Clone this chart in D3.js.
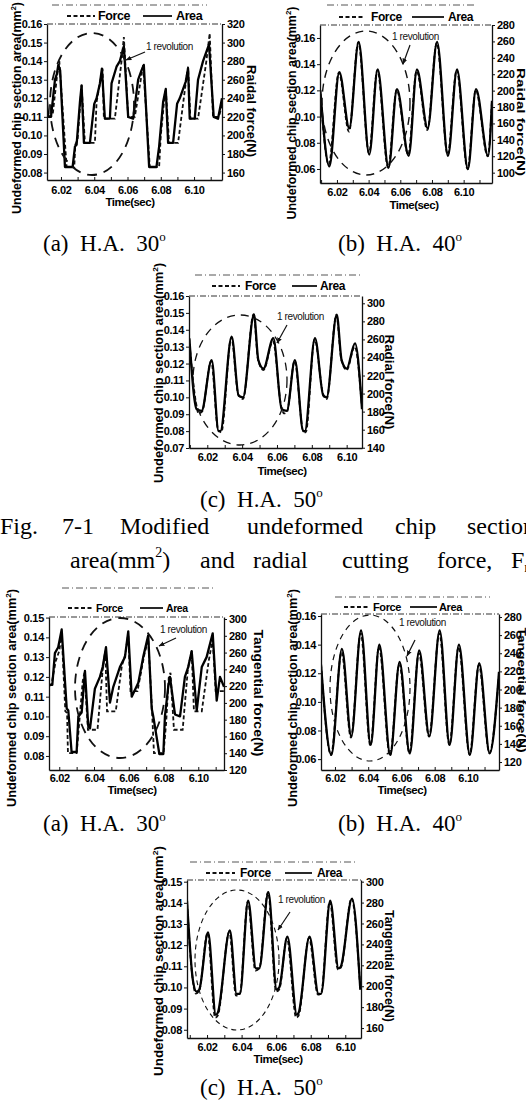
<!DOCTYPE html>
<html>
<head>
<meta charset="utf-8">
<script src="https://cdn.jsdelivr.net/npm/d3@7"></script>
<style>
  body { margin: 0; background: #fff; }
  svg { display: block; background: #fff; }
</style>
</head>
<body>
<svg id="fig" width="526" height="1108"></svg>
<script>
const timeTicks = [6.02, 6.04, 6.06, 6.08, 6.10]

// (a) radial force, H.A. 30
const areaA = [[6.0114, 0.120], [6.0124, 0.110], [6.0140, 0.110], [6.0164, 0.130], [6.0175, 0.133], [6.0184, 0.138], [6.0195, 0.135], [6.0224, 0.083], [6.0270, 0.083], [6.0284, 0.094], [6.0294, 0.095], [6.0314, 0.118], [6.0324, 0.127], [6.0338, 0.096], [6.0374, 0.096], [6.0400, 0.117], [6.0414, 0.120], [6.0434, 0.128], [6.0446, 0.136], [6.0464, 0.109], [6.0494, 0.109], [6.0504, 0.128], [6.0534, 0.137], [6.0554, 0.140], [6.0578, 0.148], [6.0604, 0.110], [6.0634, 0.109], [6.0664, 0.130], [6.0684, 0.135], [6.0698, 0.138], [6.0730, 0.083], [6.0774, 0.083], [6.0790, 0.094], [6.0814, 0.118], [6.0830, 0.125], [6.0844, 0.096], [6.0874, 0.096], [6.0898, 0.117], [6.0914, 0.120], [6.0950, 0.129], [6.0964, 0.136], [6.0974, 0.109], [6.1004, 0.109], [6.1024, 0.130], [6.1054, 0.140], [6.1090, 0.149], [6.1118, 0.110], [6.1144, 0.109], [6.1168, 0.120]]
const forceA = [[6.0114, 228], [6.0134, 220], [6.0150, 222], [6.0175, 262], [6.0190, 280], [6.0234, 166], [6.0280, 166], [6.0286, 190], [6.0300, 196], [6.0324, 254], [6.0344, 192], [6.0404, 192], [6.0414, 236], [6.0440, 262], [6.0450, 272], [6.0458, 218], [6.0524, 218], [6.0564, 280], [6.0578, 306], [6.0604, 220], [6.0644, 220], [6.0694, 276], [6.0734, 166], [6.0790, 166], [6.0800, 200], [6.0824, 244], [6.0830, 250], [6.0850, 192], [6.0904, 192], [6.0954, 262], [6.0964, 274], [6.0978, 218], [6.1024, 218], [6.1074, 280], [6.1094, 310], [6.1114, 220], [6.1150, 220], [6.1168, 234]]
const leftTicksA = [0.08, 0.09, 0.10, 0.11, 0.12, 0.13, 0.14, 0.15, 0.16]
const rightTicksA = [160, 180, 200, 220, 240, 260, 280, 300, 320]

// (b) radial force, H.A. 40
const areaB = [[6.0095, 0.120], [6.0152, 0.062], [6.0215, 0.134], [6.0278, 0.091], [6.0337, 0.157], [6.0404, 0.071], [6.0457, 0.136], [6.0526, 0.061], [6.0579, 0.121], [6.0653, 0.070], [6.0705, 0.136], [6.0773, 0.091], [6.0832, 0.157], [6.0901, 0.070], [6.0958, 0.136], [6.1027, 0.060], [6.1078, 0.121], [6.1154, 0.070], [6.1179, 0.112]]
const forceB = [[6.0093, 204], [6.0148, 110], [6.0212, 222], [6.0276, 150], [6.0335, 259], [6.0402, 124], [6.0455, 225], [6.0523, 106], [6.0577, 201], [6.0650, 122], [6.0703, 224], [6.0771, 152], [6.0830, 258], [6.0899, 122], [6.0956, 225], [6.1025, 104], [6.1076, 201], [6.1152, 120], [6.1179, 188]]
const leftTicksB = [0.06, 0.08, 0.10, 0.12, 0.14, 0.16]
const rightTicksB = [100, 120, 140, 160, 180, 200, 220, 240, 260, 280]

// (c) radial force, H.A. 50
const areaC = [[6.0097, 0.135], [6.0139, 0.093], [6.0167, 0.092], [6.0225, 0.122], [6.0265, 0.080], [6.0275, 0.080], [6.0340, 0.136], [6.0380, 0.101], [6.0405, 0.100], [6.0468, 0.149], [6.0493, 0.122], [6.0522, 0.117], [6.0579, 0.135], [6.0627, 0.093], [6.0656, 0.092], [6.0703, 0.122], [6.0751, 0.080], [6.0760, 0.080], [6.0818, 0.135], [6.0866, 0.101], [6.0885, 0.100], [6.0943, 0.149], [6.0971, 0.122], [6.1000, 0.117], [6.1048, 0.132], [6.1088, 0.093]]
const forceC = [[6.0095, 262], [6.0135, 190], [6.0150, 178], [6.0170, 180], [6.0222, 236], [6.0262, 160], [6.0280, 157], [6.0338, 262], [6.0378, 199], [6.0405, 194], [6.0466, 288], [6.0491, 238], [6.0522, 226], [6.0577, 258], [6.0624, 186], [6.0640, 178], [6.0658, 180], [6.0701, 236], [6.0750, 159], [6.0765, 157], [6.0816, 260], [6.0864, 200], [6.0885, 194], [6.0941, 287], [6.0969, 238], [6.1000, 226], [6.1046, 252], [6.1088, 184]]
const leftTicksC = [0.07, 0.08, 0.09, 0.10, 0.11, 0.12, 0.13, 0.14, 0.15, 0.16]
const rightTicksC = [140, 160, 180, 200, 220, 240, 260, 280, 300]

// (a) tangential force, H.A. 30
const areaD = [[6.0142, 0.116], [6.0160, 0.116], [6.0175, 0.132], [6.0194, 0.135], [6.0214, 0.144], [6.0243, 0.104], [6.0252, 0.103], [6.0271, 0.082], [6.0300, 0.082], [6.0310, 0.100], [6.0329, 0.102], [6.0348, 0.123], [6.0367, 0.095], [6.0377, 0.094], [6.0405, 0.114], [6.0434, 0.120], [6.0450, 0.125], [6.0469, 0.135], [6.0492, 0.107], [6.0511, 0.115], [6.0549, 0.125], [6.0578, 0.130], [6.0597, 0.143], [6.0617, 0.110], [6.0655, 0.117], [6.0683, 0.130], [6.0712, 0.141], [6.0732, 0.104], [6.0741, 0.100], [6.0776, 0.081], [6.0799, 0.081], [6.0808, 0.100], [6.0827, 0.115], [6.0837, 0.120], [6.0866, 0.101], [6.0895, 0.100], [6.0923, 0.120], [6.0942, 0.125], [6.0962, 0.133], [6.0991, 0.103], [6.1020, 0.125], [6.1048, 0.130], [6.1083, 0.142], [6.1106, 0.108], [6.1125, 0.120], [6.1148, 0.115]]
const forceD = [[6.0142, 220], [6.0155, 222], [6.0180, 250], [6.0200, 262], [6.0214, 282], [6.0235, 190], [6.0245, 188], [6.0250, 140], [6.0300, 140], [6.0315, 176], [6.0335, 226], [6.0345, 236], [6.0365, 168], [6.0420, 168], [6.0450, 240], [6.0465, 262], [6.0475, 190], [6.0525, 190], [6.0560, 244], [6.0580, 258], [6.0597, 282], [6.0610, 214], [6.0650, 214], [6.0690, 258], [6.0712, 276], [6.0735, 186], [6.0745, 140], [6.0800, 140], [6.0815, 176], [6.0830, 230], [6.0840, 236], [6.0860, 168], [6.0910, 168], [6.0940, 240], [6.0962, 262], [6.0975, 190], [6.1020, 190], [6.1060, 250], [6.1083, 276], [6.1100, 214], [6.1148, 214]]
const leftTicksD = [0.08, 0.09, 0.10, 0.11, 0.12, 0.13, 0.14, 0.15]
const rightTicksD = [120, 140, 160, 180, 200, 220, 240, 260, 280, 300]

// (b) tangential force, H.A. 40
const areaE = [[6.0116, 0.126], [6.0178, 0.063], [6.0242, 0.137], [6.0298, 0.076], [6.0357, 0.150], [6.0415, 0.070], [6.0467, 0.140], [6.0533, 0.063], [6.0589, 0.128], [6.0650, 0.064], [6.0707, 0.136], [6.0768, 0.076], [6.0830, 0.150], [6.0890, 0.070], [6.0946, 0.140], [6.1012, 0.063], [6.1068, 0.127], [6.1131, 0.064], [6.1187, 0.121]]
const forceE = [[6.0116, 228], [6.0176, 128], [6.0240, 241], [6.0296, 147], [6.0355, 262], [6.0413, 138], [6.0465, 247], [6.0531, 127], [6.0587, 228], [6.0648, 130], [6.0705, 240], [6.0766, 148], [6.0828, 262], [6.0888, 139], [6.0944, 247], [6.1010, 128], [6.1066, 227], [6.1129, 130], [6.1187, 217]]
const leftTicksE = [0.06, 0.08, 0.10, 0.12, 0.14, 0.16]
const rightTicksE = [120, 140, 160, 180, 200, 220, 240, 260, 280]

// (c) tangential force, H.A. 50
const areaF = [[6.0084, 0.141], [6.0119, 0.103], [6.0139, 0.098], [6.0155, 0.099], [6.0206, 0.126], [6.0251, 0.087], [6.0262, 0.088], [6.0332, 0.127], [6.0371, 0.097], [6.0390, 0.097], [6.0438, 0.141], [6.0483, 0.109], [6.0502, 0.109], [6.0555, 0.145], [6.0603, 0.099], [6.0618, 0.100], [6.0665, 0.124], [6.0720, 0.087], [6.0730, 0.088], [6.0793, 0.124], [6.0845, 0.097], [6.0860, 0.097], [6.0913, 0.141], [6.0961, 0.109], [6.0975, 0.110], [6.1039, 0.142], [6.1087, 0.099]]
const forceF = [[6.0084, 280], [6.0112, 214], [6.0135, 193], [6.0155, 196], [6.0203, 251], [6.0247, 170], [6.0262, 172], [6.0329, 252], [6.0368, 191], [6.0390, 193], [6.0436, 281], [6.0480, 215], [6.0502, 217], [6.0553, 290], [6.0600, 195], [6.0618, 197], [6.0662, 246], [6.0716, 170], [6.0730, 172], [6.0790, 246], [6.0842, 192], [6.0860, 193], [6.0910, 281], [6.0958, 216], [6.0975, 218], [6.1036, 284], [6.1087, 197]]
const leftTicksF = [0.08, 0.09, 0.10, 0.11, 0.12, 0.13, 0.14, 0.15]
const rightTicksF = [160, 180, 200, 220, 240, 260, 280, 300]

const sans = "'Liberation Sans', Arial, sans-serif"
const serif = "'Liberation Serif', 'Times New Roman', serif"

// frame: [x0, y0, x1, y1]; leg: [dash0, dash1, forceX, solid0, solid1, areaX, baseline]
const panels = [
  { area: areaA, force: forceA, lt: leftTicksA, rt: rightTicksA, rLabel: 'Raidal force(N)', curve: d3.curveLinear,
    frame: [47, 24, 222, 180], t: [6.0116, 6.1168], yl: [0.076, 0.16], yr: [152, 320], pad: 6,
    box: [52, 5, 207, 27], leg: [67, 95, 98, 143, 172, 176, 20], legSize: 12.5,
    yLab: [21, 108, 212], rLab: [247, 111, 92, 12], tLab: [130, 206],
    ell: [92, 104, 42, 71], ellDash: '10,7', ellW: 1.8, note: [146, 50, 145, 52, 126, 60] },
  { area: areaB, force: forceB, lt: leftTicksB, rt: rightTicksB, rLabel: 'Raidal force(N)', curve: d3.curveMonotoneX,
    frame: [320, 25, 492, 183], t: [6.0093, 6.1179], yl: [0.0493, 0.1699], yr: [87.4, 280], pad: 5,
    box: [327, 5, 475, 26], leg: [339, 365, 371, 412, 444, 448, 21], legSize: 12,
    yLab: [296, 113, 213], rLab: [517, 122, 108, 11], tLab: [414, 209],
    ell: [366, 103, 44, 72], ellDash: '8,6', ellW: 1.4, note: [392, 40, 410, 45, 403, 64] },
  { area: areaC, force: forceC, lt: leftTicksC, rt: rightTicksC, rLabel: 'Radial force(N)', curve: d3.curveMonotoneX,
    frame: [189, 296, 362, 448], t: [6.0095, 6.1088], yl: [0.07, 0.16], yr: [139.7, 308.1], pad: 5,
    box: [195, 275, 360, 298], leg: [212, 240, 245, 292, 317, 320, 290], legSize: 12,
    yLab: [163, 373, 220], rLab: [385, 382, 95, 12], tLab: [282, 475],
    ell: [240, 380, 47, 65], ellDash: '8,6', ellW: 1.3, note: [277, 320, 287, 325, 277, 343] },
  { area: areaD, force: forceD, lt: leftTicksD, rt: rightTicksD, rLabel: 'Tangential force(N)', curve: d3.curveLinear,
    frame: [49, 617, 224, 770], t: [6.0141, 6.1148], yl: [0.0729, 0.1503], yr: [120, 302.4], pad: 4,
    box: [62, 588, 213, 617], leg: [68, 92, 96, 140, 163, 166, 612], legSize: 10.5,
    yLab: [16, 698, 218], rLab: [254, 693, 127, 12], tLab: [132, 794],
    ell: [120, 688, 45, 70], ellDash: '10,7', ellW: 1.8, note: [160, 633, 176, 638, 159, 646] },
  { area: areaE, force: forceE, lt: leftTicksE, rt: rightTicksE, rLabel: 'Tangential force(N)', curve: d3.curveMonotoneX,
    frame: [321, 614, 499, 770], t: [6.0116, 6.1187], yl: [0.0524, 0.1614], yr: [111.2, 283.3], pad: 4,
    box: [335, 597, 490, 614], leg: [344, 369, 373, 410, 437, 439, 611], legSize: 11,
    yLab: [297, 698, 218], rLab: [518, 690, 125, 10.5], tLab: [402, 794],
    ell: [370, 688, 40, 73], ellDash: '6,5', ellW: 1.2, note: [399, 626, 415, 640, 407, 656] },
  { area: areaF, force: forceF, lt: leftTicksF, rt: rightTicksF, rLabel: 'Tangential force(N)', curve: d3.curveMonotoneX,
    frame: [187, 880, 361, 1038], t: [6.0084, 6.1091], yl: [0.0761, 0.1508], yr: [150.5, 301.6], pad: 5,
    box: [190, 862, 357, 885], leg: [206, 235, 240, 285, 312, 317, 877], legSize: 12,
    yLab: [163, 961, 230], rLab: [385, 966, 112, 12], tLab: [278, 1063],
    ell: [237, 960, 42, 70], ellDash: '5,4', ellW: 1.1, note: [278, 903, 290, 912, 278, 930] }
]

// captions: [x, baseline, label, degree mark]
const captions = [
  [43, 251, '(a)  H.A.  30', 'o'],
  [338, 251, '(b)  H.A.  40', 'o'],
  [200, 507, '(c)  H.A.  50', 'o'],
  [43, 831, '(a)  H.A.  30', 'o'],
  [338, 831, '(b)  H.A.  40', 'o'],
  [200, 1095, '(c)  H.A.  50', 'o']
]
const figWords1 = [['Fig.', 0], ['7-1', 62], ['Modified', 120], ['undeformed', 247], ['chip', 395], ['section', 467]]
const figWords2 = [['and', 200], ['radial', 253], ['cutting', 342], ['force,', 437]]

const svg = d3.select('#fig')
svg.append('defs').append('marker')
  .attr('id', 'arr').attr('viewBox', '0 0 10 10').attr('refX', 9).attr('refY', 5)
  .attr('markerWidth', 5).attr('markerHeight', 5).attr('orient', 'auto')
  .append('path').attr('d', 'M0,1 L10,5 L0,9 z').attr('fill', '#111')

function styleAxis (g) {
  g.select('.domain').attr('stroke', '#111').attr('stroke-width', 1.3)
  g.selectAll('.tick line').attr('stroke', '#111').attr('stroke-width', 1)
  g.selectAll('.tick text').attr('font-family', sans).attr('font-size', 11)
    .attr('font-weight', 'bold').attr('letter-spacing', -0.3).attr('fill', '#000')
}

panels.forEach(function (p, i) {
  let [x0, y0, x1, y1] = p.frame
  let x = d3.scaleLinear().domain(p.t).range([x0, x1])
  let yl = d3.scaleLinear().domain(p.yl).range([y1, y0])
  let yr = d3.scaleLinear().domain(p.yr).range([y1, y0])
  let g = svg.append('g')

  g.append('clipPath').attr('id', 'clip' + i)
    .append('rect').attr('x', x0).attr('y', y0).attr('width', x1 - x0).attr('height', y1 - y0)

  let plot = g.append('g').attr('clip-path', 'url(#clip' + i + ')')
  plot.append('path').datum(p.force)
    .attr('d', d3.line().x(d => x(d[0])).y(d => yr(d[1])).curve(p.curve))
    .attr('fill', 'none').attr('stroke', '#111').attr('stroke-width', 1.8)
    .attr('stroke-dasharray', '4,2.5')
  plot.append('path').datum(p.area)
    .attr('d', d3.line().x(d => x(d[0])).y(d => yl(d[1])).curve(p.curve))
    .attr('fill', 'none').attr('stroke', '#000').attr('stroke-width', 2.3)
    .attr('stroke-linejoin', 'round')

  // axes
  g.append('g').attr('transform', `translate(0,${y1})`)
    .call(d3.axisBottom(x).tickValues(d3.range(6.01, 6.115, 0.01).filter(v => v >= p.t[0] && v <= p.t[1]))
      .tickFormat(v => timeTicks.some(t => Math.abs(t - v) < 1e-6) ? d3.format('.2f')(v) : '')
      .tickSize(-3).tickSizeOuter(0).tickPadding(p.pad))
    .call(styleAxis)
  g.append('g').attr('transform', `translate(${x0},0)`)
    .call(d3.axisLeft(yl).tickValues(p.lt).tickFormat(d3.format('.2f')).tickSize(3).tickSizeOuter(0).tickPadding(2))
    .call(styleAxis)
  g.append('g').attr('transform', `translate(${x1},0)`)
    .call(d3.axisRight(yr).tickValues(p.rt).tickFormat(d3.format('d')).tickSize(3).tickSizeOuter(0).tickPadding(2))
    .call(styleAxis)

  // legend box (its lower edge closes the frame)
  let [bx0, by0, bx1] = p.box
  g.append('line').attr('x1', bx0).attr('x2', bx1).attr('y1', by0).attr('y2', by0)
    .attr('stroke', '#555').attr('stroke-width', 1).attr('stroke-dasharray', '7,3,1,3')
  g.append('line').attr('x1', x0).attr('x2', x1).attr('y1', y0).attr('y2', y0)
    .attr('stroke', '#333').attr('stroke-width', 1.1).attr('stroke-dasharray', '6,2,1,2')
  let [d0, d1, fx, s0, s1, ax, ly] = p.leg
  g.append('line').attr('x1', d0).attr('x2', d1).attr('y1', ly - 4).attr('y2', ly - 4)
    .attr('stroke', '#111').attr('stroke-width', 1.8).attr('stroke-dasharray', '4,2.5')
  g.append('line').attr('x1', s0).attr('x2', s1).attr('y1', ly - 4).attr('y2', ly - 4)
    .attr('stroke', '#111').attr('stroke-width', 1.8)
  g.append('text').attr('x', fx).attr('y', ly).text('Force')
    .attr('font-family', sans).attr('font-weight', 'bold').attr('font-size', p.legSize).attr('letter-spacing', -0.4)
  g.append('text').attr('x', ax).attr('y', ly).text('Area')
    .attr('font-family', sans).attr('font-weight', 'bold').attr('font-size', p.legSize).attr('letter-spacing', -0.4)

  // axis titles
  let yt = g.append('text').attr('transform', `translate(${p.yLab[0]},${p.yLab[1]}) rotate(-90)`)
    .attr('text-anchor', 'middle').attr('font-family', sans).attr('font-weight', 'bold')
    .attr('font-size', 12.5).attr('textLength', p.yLab[2]).attr('lengthAdjust', 'spacingAndGlyphs')
  yt.append('tspan').text('Undeformed chip section area(mm')
  yt.append('tspan').text('2').attr('font-size', 8).attr('dy', -5)
  yt.append('tspan').text(')').attr('dy', 5)
  g.append('text').attr('transform', `translate(${p.rLab[0]},${p.rLab[1]}) rotate(90)`)
    .attr('text-anchor', 'middle').attr('font-family', sans).attr('font-weight', 'bold')
    .attr('font-size', p.rLab[3]).attr('textLength', p.rLab[2]).attr('lengthAdjust', 'spacingAndGlyphs')
    .text(p.rLabel)
  g.append('text').attr('x', p.tLab[0]).attr('y', p.tLab[1]).attr('text-anchor', 'middle')
    .attr('font-family', sans).attr('font-weight', 'bold').attr('font-size', 11.5).attr('letter-spacing', -0.5)
    .text('Time(sec)')

  // one revolution marker
  let [cx, cy, rx, ry] = p.ell
  g.append('ellipse').attr('cx', cx).attr('cy', cy).attr('rx', rx).attr('ry', ry)
    .attr('fill', 'none').attr('stroke', '#111').attr('stroke-width', p.ellW).attr('stroke-dasharray', p.ellDash)
  let n = p.note
  g.append('text').attr('x', n[0]).attr('y', n[1]).text('1 revolution')
    .attr('font-family', sans).attr('font-size', 10).attr('letter-spacing', -0.4).attr('fill', '#111')
  g.append('line').attr('x1', n[2]).attr('y1', n[3]).attr('x2', n[4]).attr('y2', n[5])
    .attr('stroke', '#111').attr('stroke-width', 1.2).attr('marker-end', 'url(#arr)')
})

captions.forEach(function (c) {
  let t = svg.append('text').attr('x', c[0]).attr('y', c[1])
    .attr('font-family', serif).attr('font-size', 23).style('white-space', 'pre')
  t.append('tspan').text(c[2])
  t.append('tspan').text(c[3]).attr('font-size', 13).attr('dy', -10)
})

figWords1.forEach(function (w) {
  svg.append('text').attr('x', w[1]).attr('y', 534).text(w[0])
    .attr('font-family', serif).attr('font-size', 24)
})
let aw = svg.append('text').attr('x', 70).attr('y', 568).attr('font-family', serif).attr('font-size', 24)
aw.append('tspan').text('area(mm')
aw.append('tspan').text('2').attr('font-size', 14).attr('dy', -11)
aw.append('tspan').text(')').attr('dy', 11)
figWords2.forEach(function (w) {
  svg.append('text').attr('x', w[1]).attr('y', 568).text(w[0])
    .attr('font-family', serif).attr('font-size', 24)
})
let fr = svg.append('text').attr('x', 511).attr('y', 568).attr('font-family', serif).attr('font-size', 24)
fr.append('tspan').text('F')
fr.append('tspan').text('r').attr('font-size', 15).attr('dy', 4)
fr.append('tspan').text('(N)').attr('dy', -4)
</script>
</body>
</html>
